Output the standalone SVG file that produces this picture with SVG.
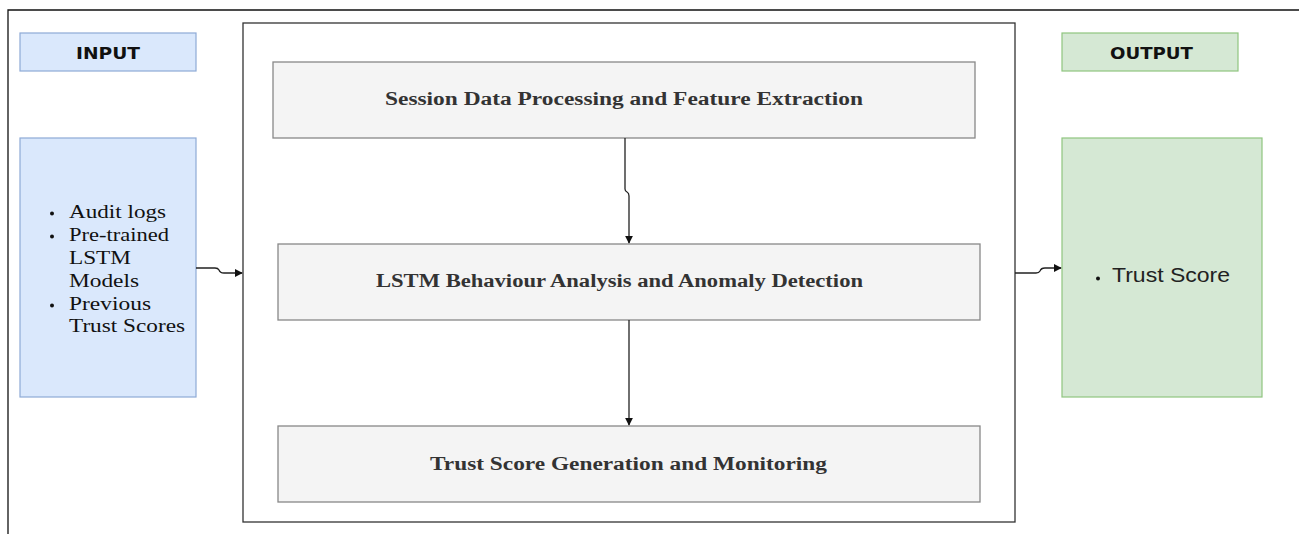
<svg xmlns="http://www.w3.org/2000/svg" width="1299" height="534" viewBox="0 0 1299 534">
<style>
.hdr{font-family:"DejaVu Sans",sans-serif;font-weight:bold;font-size:16px;fill:#111}
.proc{fill:#f4f4f4;stroke:#888;stroke-width:1.3}
.ptxt{font-family:"Liberation Serif",serif;font-weight:bold;font-size:18.5px;fill:#333}
.li{font-family:"Liberation Serif",serif;font-size:19px;fill:#111}
.dot{fill:#111}
.conn{fill:none;stroke:#222;stroke-width:1.3}
</style>
<defs>
<marker id="ah" viewBox="0 0 10 10" refX="9" refY="5" markerWidth="8" markerHeight="8" orient="auto" markerUnits="userSpaceOnUse">
<path d="M0,0 L10,5 L0,10 z" fill="#111"/>
</marker>
</defs>
<rect width="1299" height="534" fill="#fff"/>
<path d="M8,534 V10 H1299" fill="none" stroke="#111" stroke-width="1.3"/>
<g id="frame"><rect x="243" y="23" width="772" height="499" fill="#fff" stroke="#333" stroke-width="1.3"/></g>
<g id="input-header"><rect x="20" y="33" width="176" height="38" fill="#dae8fc" stroke="#8eaad6" stroke-width="1.2"/><text class="hdr" x="76" y="59" textLength="64" lengthAdjust="spacingAndGlyphs">INPUT</text></g>
<g id="input-body"><rect x="20" y="138" width="176" height="259" fill="#dae8fc" stroke="#8eaad6" stroke-width="1.2"/>
<circle class="dot" cx="52" cy="213.5" r="2"/><text class="li" x="69" y="218" textLength="97" lengthAdjust="spacingAndGlyphs">Audit logs</text>
<circle class="dot" cx="52" cy="236.5" r="2"/><text class="li" x="69" y="241" textLength="100" lengthAdjust="spacingAndGlyphs">Pre-trained</text>
<text class="li" x="69" y="264" textLength="62" lengthAdjust="spacingAndGlyphs">LSTM</text>
<text class="li" x="69" y="287" textLength="70" lengthAdjust="spacingAndGlyphs">Models</text>
<circle class="dot" cx="52" cy="305.5" r="2"/><text class="li" x="69" y="310" textLength="82" lengthAdjust="spacingAndGlyphs">Previous</text>
<text class="li" x="69" y="332" textLength="116" lengthAdjust="spacingAndGlyphs">Trust Scores</text></g>
<g id="output-header"><rect x="1062" y="33" width="176" height="38" fill="#d5e8d4" stroke="#8fc57f" stroke-width="1.2"/><text class="hdr" x="1110" y="59" textLength="83" lengthAdjust="spacingAndGlyphs">OUTPUT</text></g>
<g id="output-body"><rect x="1062" y="138" width="200" height="259" fill="#d5e8d4" stroke="#8fc57f" stroke-width="1.2"/>
<circle class="dot" cx="1098" cy="278.5" r="2"/><text x="1112" y="282" font-family="Liberation Sans,sans-serif" font-size="19.5" fill="#222" textLength="118" lengthAdjust="spacingAndGlyphs">Trust Score</text></g>
<g id="session"><rect class="proc" x="273" y="62" width="702" height="76"/><text class="ptxt" x="385" y="105" textLength="478" lengthAdjust="spacingAndGlyphs">Session Data Processing and Feature Extraction</text></g>
<g id="lstm"><rect class="proc" x="278" y="244" width="702" height="76"/><text class="ptxt" x="376" y="287" textLength="487" lengthAdjust="spacingAndGlyphs">LSTM Behaviour Analysis and Anomaly Detection</text></g>
<g id="trust"><rect class="proc" x="278" y="426" width="702" height="76"/><text class="ptxt" x="430" y="470" textLength="397" lengthAdjust="spacingAndGlyphs">Trust Score Generation and Monitoring</text></g>
<g id="connectors">
<path class="conn" d="M625,138 V189 Q625,191 627,192 Q629,193 629,196 V243" marker-end="url(#ah)"/>
<path class="conn" d="M629,320 V425" marker-end="url(#ah)"/>
<path class="conn" d="M196,268 H215 Q218,268 219,270 Q220,273 224,273 H242" marker-end="url(#ah)"/>
<path class="conn" d="M1015,273 H1036 Q1039,273 1040,271 Q1041,268 1045,268 H1061" marker-end="url(#ah)"/>
</g>
</svg>
